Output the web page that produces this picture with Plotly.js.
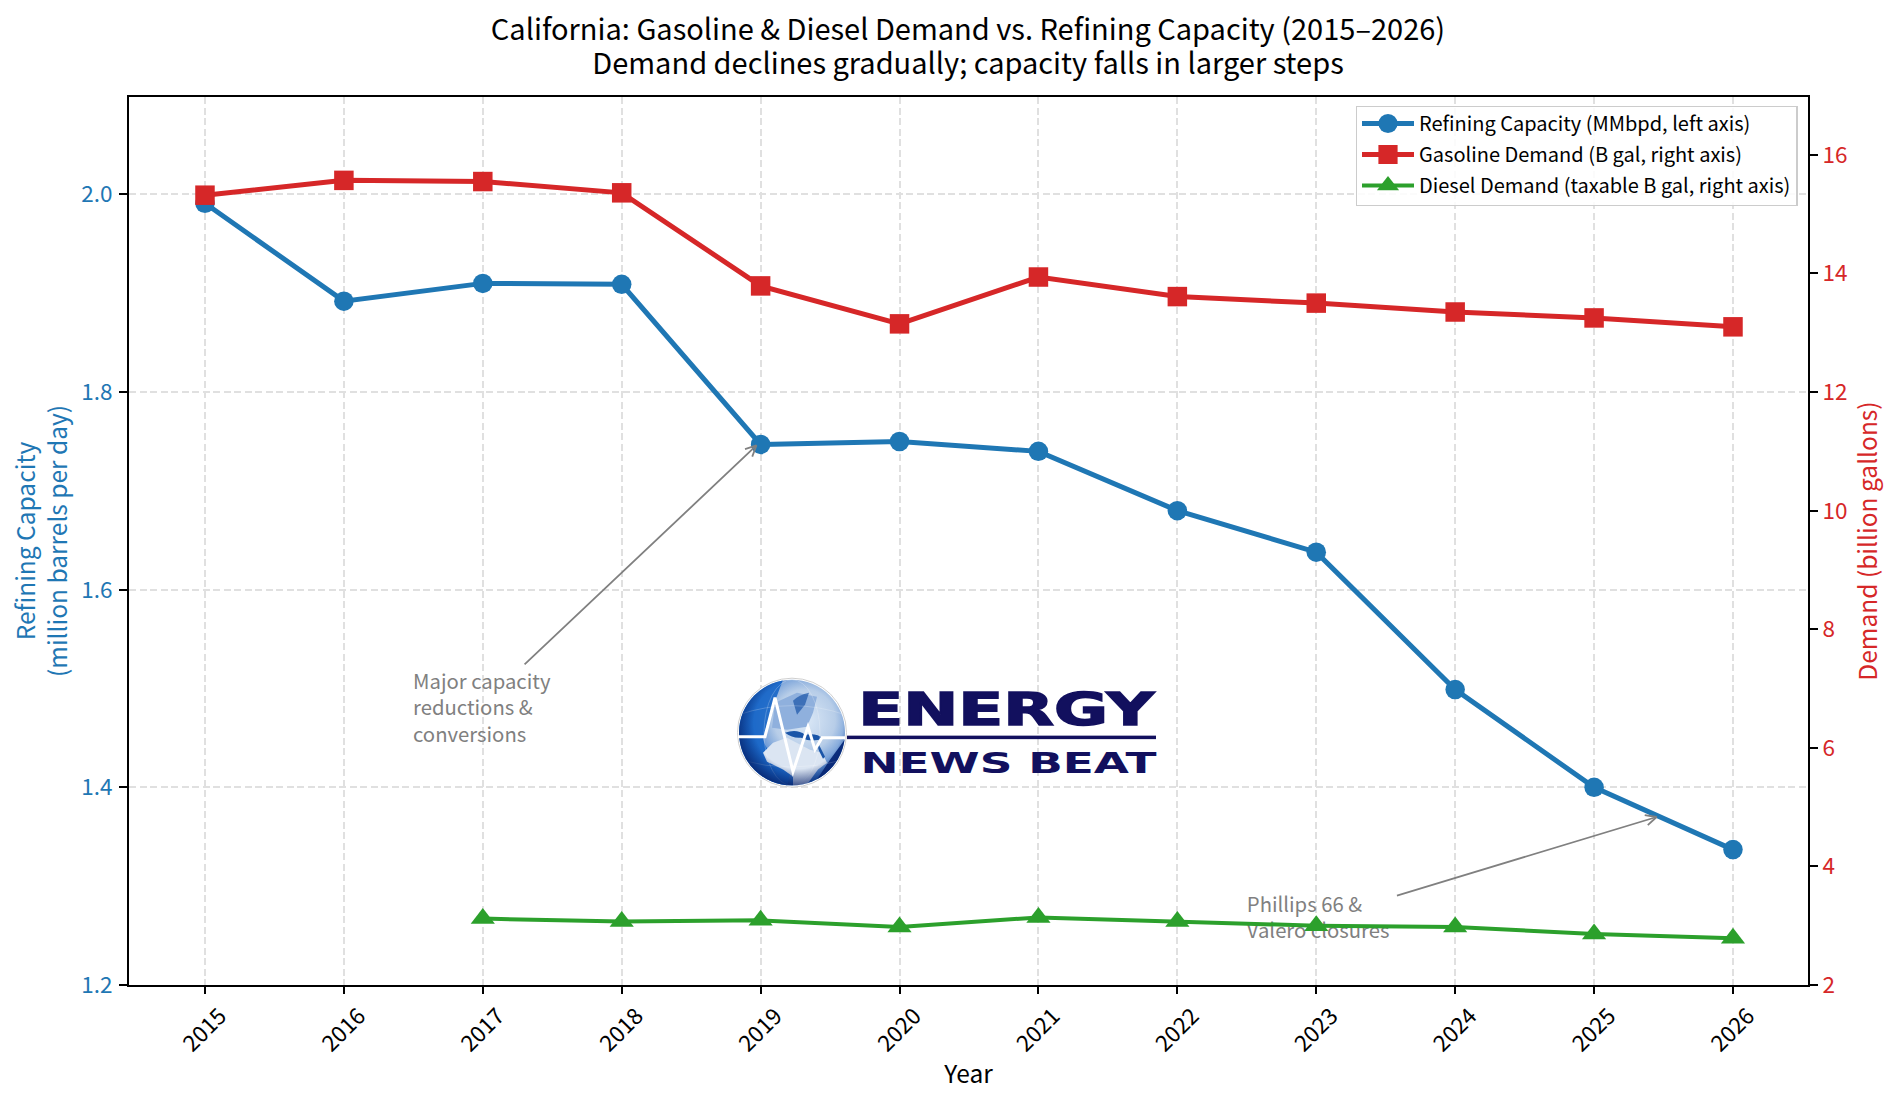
<!DOCTYPE html>
<html><head><meta charset="utf-8">
<script src="https://cdn.plot.ly/plotly-3.0.1.min.js"></script>
<style>html,body{margin:0;padding:0;background:#fff}#chart{width:1900px;height:1104px}</style>
</head><body><div id="chart"></div>
<script>
const years = [2015,2016,2017,2018,2019,2020,2021,2022,2023,2024,2025,2026];
const refiningCapacity = [1.991,1.892,1.910,1.909,1.747,1.750,1.740,1.680,1.638,1.499,1.400,1.337];
const gasolineDemand = [15.32,15.57,15.55,15.36,13.79,13.15,13.94,13.61,13.50,13.35,13.25,13.10];
const dieselDemand = [null,null,3.12,3.07,3.09,2.98,3.14,3.07,3.00,2.98,2.86,2.79];
const leftTicks=[1.2,1.4,1.6,1.8,2.0], leftTickText=['1.2','1.4','1.6','1.8','2.0'];
const rightTicks=[2,4,6,8,10,12,14,16], rightTickText=['2','4','6','8','10','12','14','16'];
const BLUE='#1f77b4', RED='#d62728', GREEN='#2ca02c', GREY='#808080', NAVY='#12105e';
const FONT='"Noto Sans CJK JP","Noto Sans",sans-serif';
const W=1900,H=1104,L=129,R=1808,T=97,B=985.5;
const px=x=>(x-L)/(R-L), py=y=>(B-y)/(B-T);

const logoSvg=`<svg xmlns="http://www.w3.org/2000/svg" width="430" height="120" viewBox="0 0 430 120">
<defs><radialGradient id="g" cx="0.62" cy="0.38" r="0.72"><stop offset="0" stop-color="#dce9f7"/><stop offset="0.40" stop-color="#b7cde8"/><stop offset="0.62" stop-color="#6d9ad6"/><stop offset="0.82" stop-color="#1c5fb8"/><stop offset="1" stop-color="#0b2c78"/></radialGradient>
<radialGradient id="r" cx="0.56" cy="0.42" r="0.62"><stop offset="0.68" stop-color="#062068" stop-opacity="0"/><stop offset="1" stop-color="#062068" stop-opacity="0.9"/></radialGradient>
<clipPath id="c"><circle cx="57" cy="58" r="53"/></clipPath></defs>
<circle cx="57" cy="58" r="54.5" fill="#fff" stroke="#cfcfcf" stroke-width="1"/>
<circle cx="57" cy="58" r="53" fill="url(#g)"/>
<g clip-path="url(#c)">
<path d="M0 0 H50 C40 25 34 45 28 62 C28 72 40 85 55 100 L50 120 H0 Z" fill="#1766c8" opacity=".9"/>
<path d="M37 53 L40 28 L62 18 L82 22 L78 38 L72 52 L52 55 Z" fill="#8fb0dd"/>
<path d="M58 26 Q64 20 74 18 L70 30 L62 40 Z" fill="#1a55a8" opacity=".7"/>
<path d="M28 78 L38 68 L52 63 L75 75 L87 78 L92 88 L83 95 L72 110 L58 112 L58 102 L48 95 L32 87 Z" fill="#dbe5f2"/>
<path d="M50 58 Q62 54 70 60 Q82 58 88 64 Q76 68 66 63 Q58 64 50 58 Z" fill="#1a55a8"/>
<path d="M84 70 L90 82 L88 84 L82 72 Z" fill="#1a55a8"/>
<path d="M95 85 L112 62 V120 H60 L80 108 Z" fill="#0b2f80"/>
<ellipse cx="57" cy="58" rx="28" ry="53" fill="none" stroke="#fff" stroke-opacity=".22"/>
<path d="M4 40 Q57 22 110 40 M4 85 Q57 100 110 85" fill="none" stroke="#fff" stroke-opacity=".22"/>
<circle cx="57" cy="58" r="53" fill="url(#r)"/>
</g>
<path d="M3 62 H30 L40 23 L58 97 L73 52 L80 75 L87 63 H110" fill="none" stroke="#fff" stroke-width="3"/>
<rect x="112" y="61" width="309" height="3.5" fill="${NAVY}"/>
</svg>`;
const logoSrc='data:image/svg+xml;charset=utf-8,'+encodeURIComponent(logoSvg);

const gridStyle={showgrid:true,gridcolor:'#e0e0e0',gridwidth:1.6,griddash:'7px,3.5px',zeroline:false};
const axisLine={showline:true,linecolor:'#000',linewidth:2,ticks:'outside',tickwidth:2,tickcolor:'#000'};

const traces=[
 {x:[2022.5],y:[1.266],xaxis:'x',yaxis:'y',mode:'text',text:['Phillips 66 &<br>Valero closures'],textposition:'middle right',textfont:{family:FONT,size:20.3,color:GREY},showlegend:false,hoverinfo:'skip'},
 {x:years,y:refiningCapacity,xaxis:'x',yaxis:'y',name:'Refining Capacity (MMbpd, left axis)',legendgroup:'a',mode:'lines+markers',line:{color:BLUE,width:5},marker:{symbol:'circle',size:19.5,color:BLUE}},
 {x:years,y:gasolineDemand,xaxis:'x',yaxis:'y2',name:'Gasoline Demand (B gal, right axis)',legendgroup:'b',mode:'lines+markers',line:{color:RED,width:5},marker:{symbol:'square',size:19.5,color:RED}},
 {x:years,y:dieselDemand,xaxis:'x',yaxis:'y2',name:'Diesel Demand (taxable B gal, right axis)',legendgroup:'c',mode:'lines+markers',line:{color:GREEN,width:4},marker:{symbol:'triangle-up',size:21,color:GREEN}}
];
// open arrowhead barbs, anchored to the arrow tip in data space, sized in pixels
function barbs(tipX,tipY,angDeg,len,half){
 return [angDeg+180-half,angDeg+180+half].map(a=>({type:'line',layer:'above',xref:'x',yref:'y',xsizemode:'pixel',ysizemode:'pixel',xanchor:tipX,yanchor:tipY,x0:0,y0:0,x1:len*Math.cos(a*Math.PI/180),y1:len*Math.sin(a*Math.PI/180),line:{color:GREY,width:1.8}}));
}
const layout={
 width:W,height:H,paper_bgcolor:'#fff',plot_bgcolor:'#fff',showlegend:true,
 margin:{l:L,r:W-R,t:T,b:H-B,pad:0},
 font:{family:FONT,color:'#000'},
 title:{text:'California: Gasoline & Diesel Demand vs. Refining Capacity (2015–2026)<br>Demand declines gradually; capacity falls in larger steps',font:{family:FONT,size:29,color:'#000'},x:968/W,xanchor:'center',y:1-39.5/H,yanchor:'middle'},
 xaxis:Object.assign({range:[2014.453,2026.54],tickmode:'array',tickvals:years,ticktext:years.map(String),tickangle:-45,ticklabelshift:15,tickfont:{size:22.5,color:'#000'},ticklen:7,mirror:true,title:{text:'Year',font:{size:24.5,color:'#000'},standoff:10}},axisLine,gridStyle),
 yaxis:Object.assign({range:[1.2,2.0986],tickmode:'array',tickvals:leftTicks,ticktext:leftTickText,ticklabelstandoff:2,tickfont:{size:22.5,color:BLUE},ticklen:8,title:{text:'Refining Capacity<br>(million barrels per day)',font:{size:24.5,color:BLUE},standoff:7}},axisLine,gridStyle),
 yaxis2:Object.assign({overlaying:'y',side:'right',range:[2,16.976],tickmode:'array',tickvals:rightTicks,ticktext:rightTickText,tickfont:{size:22.5,color:RED},ticklen:8,showgrid:false,zeroline:false,title:{text:'Demand (billion gallons)',font:{size:24.5,color:RED},standoff:13}},axisLine),
 legend:{x:px(1355.5),y:py(106),xanchor:'left',yanchor:'top',bgcolor:'rgba(255,255,255,0.85)',bordercolor:'#cccccc',borderwidth:1.5,font:{family:FONT,size:20,color:'#000'},itemwidth:52,traceorder:'grouped',tracegroupgap:2},
 images:[{source:logoSrc,xref:'paper',yref:'paper',x:px(735),y:py(675),sizex:430/(R-L),sizey:120/(B-T),xanchor:'left',yanchor:'top',sizing:'stretch',layer:'above'}],
 shapes:[...barbs(2018.97,1.746,43.5,12,26),...barbs(2025.45,1.37,16.8,12,26)],
 annotations:[
  {xref:'x',yref:'y',axref:'x',ayref:'y',x:2018.97,y:1.746,ax:2017.29,ay:1.523,text:'',showarrow:true,arrowhead:0,arrowwidth:1.8,arrowcolor:GREY,standoff:0},
  {xref:'x',yref:'y',axref:'x',ayref:'y',x:2025.45,y:1.37,ax:2023.57,ay:1.29,text:'',showarrow:true,arrowhead:0,arrowwidth:1.8,arrowcolor:GREY,standoff:0},
  {xref:'paper',yref:'paper',x:px(411),y:py(707),xanchor:'left',yanchor:'middle',align:'left',showarrow:false,text:'Major capacity<br>reductions &<br>conversions',font:{family:FONT,size:20.3,color:GREY}},
  {xref:'paper',yref:'paper',x:px(1007),y:py(710),xanchor:'center',yanchor:'middle',showarrow:false,text:'ENERGY',font:{family:'"DejaVu Sans"',size:45,color:NAVY,weight:700}},
  {xref:'paper',yref:'paper',x:px(1008),y:py(763),xanchor:'center',yanchor:'middle',showarrow:false,text:'NEWS BEAT',font:{family:'"DejaVu Sans"',size:29,color:NAVY,weight:700}}
 ]
};
Plotly.newPlot('chart',traces,layout,{displayModeBar:false,responsive:false}).then(gd=>{
 gd.querySelectorAll('.annotation-text').forEach(t=>{
  const s=t.textContent;
  if(s==='ENERGY'){t.setAttribute('textLength','296');t.setAttribute('lengthAdjust','spacingAndGlyphs');t.style.stroke=NAVY;t.style.strokeWidth='1.5px';}
  if(s==='NEWS BEAT'){t.setAttribute('textLength','296');t.setAttribute('lengthAdjust','spacingAndGlyphs');}
 });
 gd.querySelectorAll('.legend .legendpoints path.scatterpts').forEach(p=>{
  const tr=p.getAttribute('transform')||'';p.setAttribute('transform',tr+' scale(1.2)');
 });
 // tighten the title's line spacing and the legend's top padding
 const lines=gd.querySelectorAll('.gtitle tspan.line');
 if(lines[1]) lines[1].setAttribute('dy','1.2em');
 gd.querySelectorAll('.legend .groups').forEach(g=>{const tr=g.getAttribute('transform')||'';g.setAttribute('transform','translate(0,-3.5) '+tr);});
 const bg=gd.querySelector('.legend rect.bg');
 if(bg) bg.setAttribute('height',parseFloat(bg.getAttribute('height'))-3.5);
});
</script></body></html>
